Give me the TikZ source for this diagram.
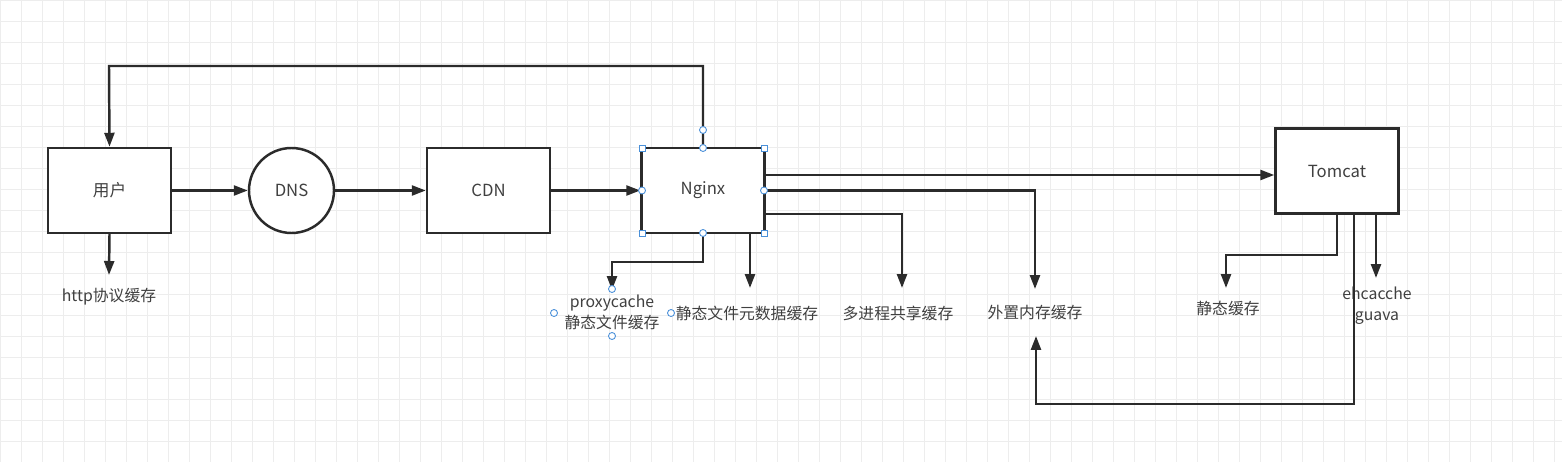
\documentclass[tikz,border=0pt]{standalone}
\usepackage{fontspec}
\setmainfont{Noto Sans CJK SC}
\usetikzlibrary{arrows.meta}
\definecolor{ln}{HTML}{2B2B2B}
\definecolor{hd}{HTML}{4A90D9}
\tikzset{
  box/.style={draw=ln, line width=1.4pt, fill=white, minimum width=123*0.02cm, minimum height=85*0.02cm, inner sep=0pt, font=\fontsize{9.5}{11}\selectfont, text=black!75},
  circ/.style={draw=ln, line width=1.4pt, fill=white, circle, minimum size=85*0.02cm, inner sep=0pt, font=\fontsize{9.5}{11}\selectfont, text=black!75},
  lbl/.style={font=\fontsize{9}{12}\selectfont, text=black!75, inner sep=1pt, align=center},
  conn/.style={draw=ln, line width=1.4pt, -{Triangle[length=0.28cm,width=0.2cm]}},
  hsq/.style={draw=hd, fill=white, line width=0.5pt, minimum size=6*0.02cm, inner sep=0pt, rectangle},
  hci/.style={draw=hd, fill=white, line width=0.5pt, minimum size=7*0.02cm, inner sep=0pt, circle},
}
\begin{document}
\begin{tikzpicture}[x=0.02cm,y=-0.02cm]
\useasboundingbox (0,0) rectangle (1562,462);
\fill[white] (0,0) rectangle (1562,462);
\foreach \i in {0,...,74} \draw[black!7, line width=0.3pt] (\i*21,0) -- (\i*21,462);
\foreach \j in {0,...,22} \draw[black!7, line width=0.3pt] (0,\j*21) -- (1562,\j*21);
% nodes
\node[box] (user) at (109.5,190.5) {用户};
\node[circ] (dns) at (291.5,190.5) {DNS};
\node[box] (cdn) at (488.5,190.5) {CDN};
\node[box] (nginx) at (703,190.5) {Nginx};
\node[box] (tomcat) at (1337,171) {Tomcat};
% labels
\node[lbl] (http) at (109,297) {http协议缓存};
\node[lbl] (proxy) at (612,312) {proxycache\\静态文件缓存};
\node[lbl] (meta) at (747,313) {静态文件元数据缓存};
\node[lbl] (multi) at (898,313) {多进程共享缓存};
\node[lbl] (ext) at (1035,313) {外置内存缓存};
\node[lbl] (stat) at (1228,308) {静态缓存};
\node[lbl] (eh) at (1377,306) {ehcacche\\guava};
% coordinates
\coordinate (c1) at (703,66);
\coordinate (c2) at (109,66);
\coordinate (nb1) at (703,262);
\coordinate (nb2) at (612,262);
\coordinate (tb1) at (1337,255);
\coordinate (tb2) at (1226,255);
\coordinate (tb3) at (1354,404);
\coordinate (tb4) at (1036,404);
% connectors
\draw[conn] (user.east) -- (dns.west);
\draw[conn] (dns.east) -- (cdn.west);
\draw[conn] (cdn.east) -- (nginx.west);
\draw[conn] (nginx.north) -- (c1) -- (c2) -- (user.north);
\draw[conn] (user.south) -- (109,275);
\draw[conn] (nginx.east |- 0,175) -- (tomcat.west |- 0,175);
\draw[conn] (nginx.east) -- (1035,190.5) -- (1035,289);
\draw[conn] (nginx.east |- 0,214) -- (902,214) -- (902,288);
\draw[conn] (nginx.south) -- (nb1) -- (nb2) -- (612,290);
\draw[conn] (750,233) -- (750,288);
\draw[conn] (tomcat.south -| tb1) -- (tb1) -- (tb2) -- (1226,288);
\draw[conn] (1376,214) -- (1376,278);
\draw[conn] (1354,214) -- (tb3) -- (tb4) -- (1036,336);
% selection handles
\foreach \p in {(642,148),(764,148),(642,233),(764,233)} \node[hsq] at \p {};
\foreach \p in {(703,148),(703,233),(642,190.5),(764,190.5),(703,130),(612,289),(554,313),(671,313),(612,336)} \node[hci] at \p {};
\end{tikzpicture}
\end{document}
